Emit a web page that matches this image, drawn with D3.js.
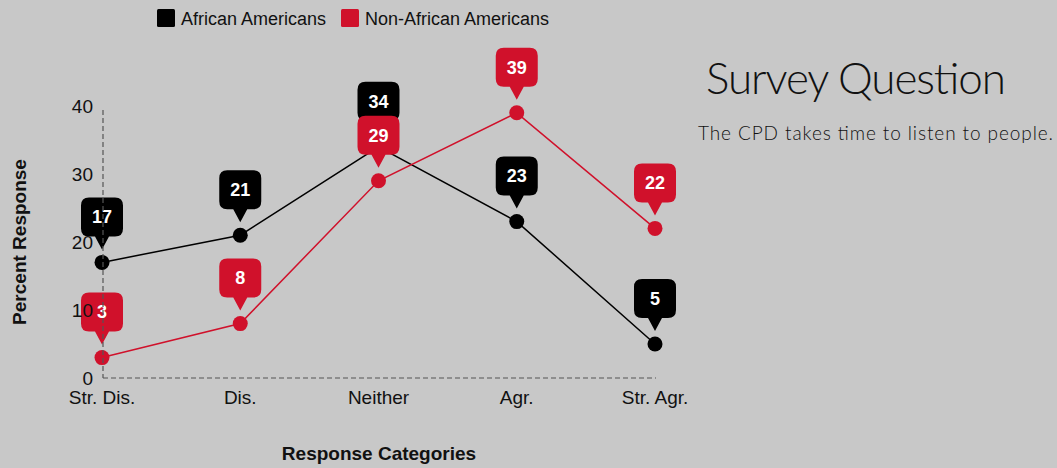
<!DOCTYPE html>
<html><head><meta charset="utf-8">
<script src="https://cdnjs.cloudflare.com/ajax/libs/d3/7.8.5/d3.min.js"></script>
<style>
html,body{margin:0;padding:0;background:#c8c8c8;}
svg{display:block;font-family:"Liberation Sans",Arial,sans-serif;}
</style></head><body>
<svg id="c" width="1057" height="468"></svg>
<script>
const categories = ["Str. Dis.", "Dis.", "Neither", "Agr.", "Str. Agr."];
const africanAmericans = [17, 21, 34, 23, 5];
const nonAfricanAmericans = [3, 8, 29, 39, 22];
const yTicks = [0, 10, 20, 30, 40];
const seriesNames = ["African Americans", "Non-African Americans"];
const seriesColors = ["#000000", "#d0112b"];

const svg = d3.select("#c");
const x = d3.scalePoint().domain(categories).range([102, 655]);
const y = d3.scaleLinear().domain([0, 40]).range([378, 106]);

// x tick labels
svg.append("g").selectAll("text").data(categories).join("text")
  .attr("x", d => x(d)).attr("y", 404)
  .attr("text-anchor", "middle").attr("font-size", 19).attr("fill", "#111")
  .text(d => d);

// axis titles
svg.append("text").attr("transform", "translate(26,242) rotate(-90)")
  .attr("text-anchor", "middle").attr("font-size", 19).attr("font-weight", "bold").attr("fill", "#111")
  .text("Percent Response");
svg.append("text").attr("x", 379).attr("y", 460)
  .attr("text-anchor", "middle").attr("font-size", 19).attr("font-weight", "bold").attr("fill", "#111")
  .text("Response Categories");

// legend
const leg = svg.append("g");
const legX = [157, 341];
seriesNames.forEach((n, i) => {
  leg.append("rect").attr("x", legX[i]).attr("y", 9).attr("width", 18).attr("height", 18).attr("rx", 1.5)
    .attr("fill", seriesColors[i]);
  leg.append("text").attr("x", legX[i] + 24).attr("y", 25).attr("font-size", 18).attr("fill", "#111").text(n);
});

// title
svg.append("text").attr("x", 706).attr("y", 94).attr("font-family", "Lato, 'Open Sans', sans-serif")
  .attr("font-weight", 300).attr("font-size", 44).attr("fill", "#111").attr("textLength", 300)
  .text("Survey Question");
svg.append("text").attr("x", 698).attr("y", 140).attr("font-family", "Lato, 'Open Sans', sans-serif")
  .attr("font-weight", 300).attr("font-size", 19).attr("fill", "#111").attr("textLength", 355)
  .text("The CPD takes time to listen to people.");

const series = [africanAmericans, nonAfricanAmericans];
const line = d3.line().x((d, i) => x(categories[i])).y(d => y(d));

series.forEach((vals, s) => {
  svg.append("path").attr("d", line(vals)).attr("fill", "none")
    .attr("stroke", seriesColors[s]).attr("stroke-width", 1.5);
});
series.forEach((vals, s) => {
  svg.append("g").selectAll("circle").data(vals).join("circle")
    .attr("cx", (d, i) => x(categories[i])).attr("cy", d => y(d)).attr("r", 7.5)
    .attr("fill", seriesColors[s]);
});

// callout labels
const W = 42, R = 8;
function calloutPath() {
  const top = -65, bot = -26, l = -W / 2, r = W / 2;
  return `M${l + R},${top} H${r - R} Q${r},${top} ${r},${top + R} V${bot - R} Q${r},${bot} ${r - R},${bot}` +
    ` H7 L0,-13 L-7,${bot} H${l + R} Q${l},${bot} ${l},${bot - R} V${top + R} Q${l},${top} ${l + R},${top} Z`;
}
series.forEach((vals, s) => {
  const g = svg.append("g").selectAll("g").data(vals).join("g")
    .attr("transform", (d, i) => `translate(${x(categories[i])},${y(d)})`);
  g.append("path").attr("d", calloutPath()).attr("fill", seriesColors[s]);
  g.append("text").attr("y", -45.5).attr("dy", "0.35em").attr("text-anchor", "middle")
    .attr("font-size", 18).attr("font-weight", "bold").attr("fill", "#fff").text(d => d);
});

// axes (dashed) drawn on top
const axisG = svg.append("g");
axisG.append("line").attr("x1", 103).attr("x2", 103).attr("y1", y(40) + 4).attr("y2", y(0))
  .attr("stroke", "#555").attr("stroke-width", 1.2).attr("stroke-dasharray", "5,3");
axisG.append("line").attr("x1", 103).attr("x2", 656).attr("y1", y(0)).attr("y2", y(0))
  .attr("stroke", "#555").attr("stroke-width", 1.2).attr("stroke-dasharray", "5,3");

// y tick labels (on top)
svg.append("g").selectAll("text").data(yTicks).join("text")
  .attr("x", 93).attr("y", d => y(d)).attr("dy", "0.35em")
  .attr("text-anchor", "end").attr("font-size", 19).attr("fill", "#111")
  .text(d => d);
</script>
</body></html>
